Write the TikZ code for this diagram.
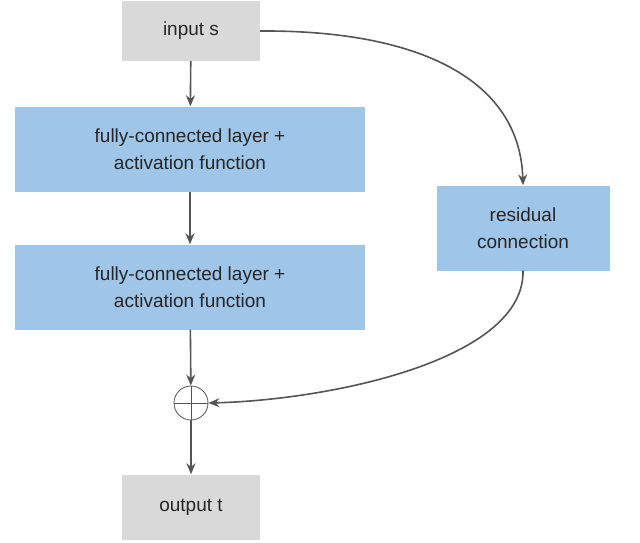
\documentclass[tikz,border=0pt]{standalone}
\usepackage{fontspec}
\setmainfont{Liberation Sans}
\usetikzlibrary{arrows.meta}
\definecolor{boxgray}{HTML}{D9D9D9}
\definecolor{boxblue}{HTML}{9FC5E8}
\definecolor{arr}{HTML}{555555}
\begin{document}
\begin{tikzpicture}[x=1pt,y=-1pt,
  box/.style={draw=none,align=center,font=\fontsize{19}{27}\selectfont,text=black!85},
  conn/.style={draw=arr,line width=1.6pt,-{Stealth[length=11pt,width=9pt]}}]
\useasboundingbox (0,0) rectangle (640,543);
\node[box,fill=boxgray,minimum width=138,minimum height=60] (in) at (191,31) {input s};
\node[box,fill=boxblue,minimum width=350,minimum height=85] (f1) at (190,149) {fully-connected layer +\\activation function};
\node[box,fill=boxblue,minimum width=350,minimum height=85] (f2) at (190,287) {fully-connected layer +\\activation function};
\node[box,fill=boxblue,minimum width=173,minimum height=85] (res) at (523,228) {residual\\connection};
\node[draw=arr,circle,line width=0.8pt,minimum size=34,inner sep=0,fill=white] (sum) at (191,403) {};
\draw[arr,line width=0.8pt] (sum.north) -- (sum.south) (sum.west) -- (sum.east);
\node[box,fill=boxgray,minimum width=138,minimum height=65] (out) at (191,507) {output t};
\draw[conn] (in) -- (f1);
\draw[conn] (f1) -- (f2);
\draw[conn] (f2) -- (sum);
\draw[conn] (sum) -- (out);
\draw[conn] (in.east) .. controls (420,30) and (520,80) .. (res.north);
\draw[conn] (res.south) .. controls (525,360) and (330,400) .. (sum.east);
\end{tikzpicture}
\end{document}
